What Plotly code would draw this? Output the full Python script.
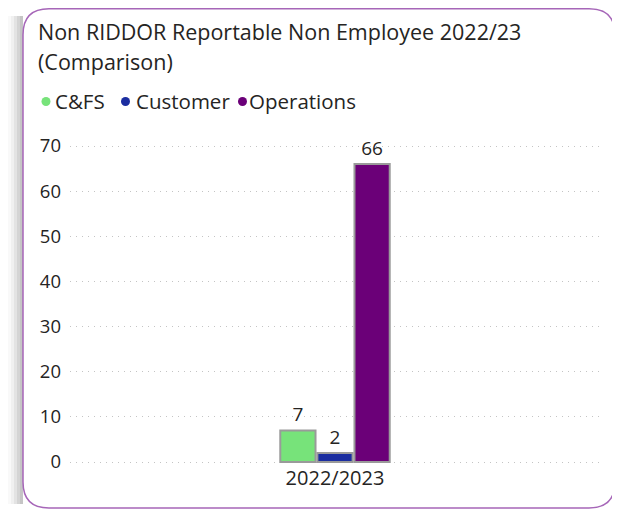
import plotly.graph_objects as go

# data
categories = ["2022/2023"]
series_names = ["C&FS", "Customer", "Operations"]
series_values = [[7], [2], [66]]
series_colors = ["#77E37A", "#1B2DA0", "#6B0078"]
y_ticks = [0, 10, 20, 30, 40, 50, 60, 70]

W, H = 620, 511
OFF = 8  # page body margin, positions below are in screen px
PAD = 2  # extra px so the 0 and 70 grid lines are drawn
L, R, T, B = 70 - OFF, 600 - OFF, 146 - PAD - OFF, 462 + PAD - OFF  # plot area, figure px
unit = (462 - 146) / 70.0  # px per value
ypad = PAD / unit


def px(x):
    return (x - OFF - L) / (R - L)


def py(y):
    return (B - (y - OFF)) / (B - T)


fig = go.Figure()
for name, vals, col in zip(series_names, series_values, series_colors):
    fig.add_trace(go.Bar(
        x=categories, y=vals, name=name,
        marker=dict(color=col, line=dict(color="#9A9A9A", width=2)),
        text=[str(v) for v in vals], textposition="outside",
        textfont=dict(size=19, color="#252423"),
        cliponaxis=False, showlegend=False,
    ))

# rounded card outline
x0, y0, x1, y1, r = 23, 8.8, 615, 508, 26
card = (f"M {px(x0+r)},{py(y0)} L {px(x1-r)},{py(y0)} "
        f"Q {px(x1)},{py(y0)} {px(x1)},{py(y0+r)} "
        f"L {px(x1)},{py(y1-r)} Q {px(x1)},{py(y1)} {px(x1-r)},{py(y1)} "
        f"L {px(x0+r)},{py(y1)} Q {px(x0)},{py(y1)} {px(x0)},{py(y1-r)} "
        f"L {px(x0)},{py(y0+r)} Q {px(x0)},{py(y0)} {px(x0+r)},{py(y0)} Z")

shapes = []
# soft shadow on the left
for i, op in enumerate([0.05, 0.08, 0.12, 0.16, 0.2]):
    shapes.append(dict(type="rect", xref="paper", yref="paper", layer="below",
                       x0=px(8 + i * 3), x1=px(23), y0=py(504), y1=py(16),
                       fillcolor="#8A8A8A", opacity=op, line=dict(width=0)))
shapes.append(dict(type="path", xref="paper", yref="paper", path=card, layer="below",
                   fillcolor="white", line=dict(color="#A666B8", width=1.5)))

annotations = [
    dict(text="Non RIDDOR Reportable Non Employee 2022/23",
         xref="paper", yref="paper", x=px(36), y=py(31), xanchor="left", yanchor="middle",
         showarrow=False, font=dict(size=21.5, color="#252423")),
    dict(text="(Comparison)",
         xref="paper", yref="paper", x=px(36), y=py(62), xanchor="left", yanchor="middle",
         showarrow=False, font=dict(size=21.5, color="#252423")),
]

# legend: dot + label per series
legend_dot_x = [46, 125.5, 242.5]
legend_text_x = [53, 133.5, 247]
for name, col, dx, tx in zip(series_names, series_colors, legend_dot_x, legend_text_x):
    shapes.append(dict(type="circle", xref="paper", yref="paper",
                       x0=px(dx - 4.5), x1=px(dx + 4.5), y0=py(106), y1=py(97),
                       fillcolor=col, line=dict(width=0)))
    annotations.append(dict(text=name, xref="paper", yref="paper",
                            x=px(tx), y=py(101), xanchor="left", yanchor="middle",
                            showarrow=False, font=dict(size=20.5, color="#252423")))

fig.update_layout(
    width=W, height=H,
    margin=dict(l=L, r=W - R, t=T, b=H - B),
    paper_bgcolor="white", plot_bgcolor="rgba(0,0,0,0)",
    font=dict(family="Open Sans, Noto Sans, sans-serif", color="#252423"),
    barmode="group", bargap=0.79, bargroupgap=0.05,
    shapes=shapes,
    annotations=annotations,
    xaxis=dict(showline=False, showgrid=False, ticks="", tickfont=dict(size=20),
               ticklabelstandoff=0),
    yaxis=dict(range=[-ypad, 70 + ypad], tickvals=y_ticks, showgrid=True, gridcolor="#C4C4C4",
               griddash="1px,5px", gridwidth=1, zeroline=False, showline=False,
               tickfont=dict(size=18.5), ticklabelstandoff=8),
)

fig.write_html("out.html")
